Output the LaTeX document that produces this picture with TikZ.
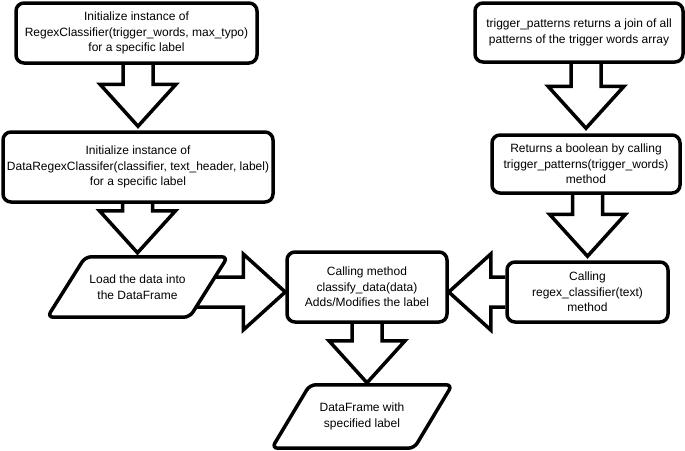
\documentclass[tikz,border=0pt]{standalone}
\usepackage{fontspec}
\setmainfont{Liberation Sans}
\usetikzlibrary{calc}
\pgfdeclarelayer{background}
\pgfsetlayers{background,main}

\tikzset{
  box/.style={draw, line width=3.5pt, rounded corners=8pt, fill=white,
    align=center, inner sep=0pt, font=\fontsize{12}{15.5}\selectfont},
  io/.style={align=center, inner sep=0pt, minimum width=142pt,
    font=\fontsize{12}{15.5}\selectfont},
  ioline/.style={draw, fill=white, line width=3.5pt, rounded corners=6pt},
  hollow/.style={draw, fill=white, line width=3.5pt}
}

% outline of a data node
\newcommand{\ioshape}[2][19pt]{%
  \draw[ioline] ($(#2.south west)+(-#1,0)$) -- ($(#2.north west)+(#1,0)$)
    -- ($(#2.north east)+(#1,0)$) -- ($(#2.south east)+(-#1,0)$) -- cycle;}

% big open arrow from #1 to the tip #2
\newcommand{\hollowarrow}[2]{%
  \path #1 coordinate (ha-s) #2 coordinate (ha-t)
    ($(ha-t)!42pt!(ha-s)$) coordinate (ha-b);
  \draw[hollow] ($(ha-s)!15pt!90:(ha-t)$) -- ($(ha-b)!15pt!90:(ha-t)$)
    -- ($(ha-b)!38pt!90:(ha-t)$) -- (ha-t) -- ($(ha-b)!38pt!-90:(ha-t)$)
    -- ($(ha-b)!15pt!-90:(ha-t)$) -- ($(ha-s)!15pt!-90:(ha-t)$);}

\begin{document}
\begin{tikzpicture}[x=1pt, y=-1pt]
  \useasboundingbox (0,0) rectangle (685,450);

  \node[box, minimum width=241pt, minimum height=60pt] (init) at (136.5,33)
    {Initialize instance of\\RegexClassifier(trigger\_words, max\_typo)\\for a specific label};
  \node[box, minimum width=270pt, minimum height=70pt] (wrap) at (138,167)
    {Initialize instance of\\DataRegexClassifer(classifier, text\_header, label)\\for a specific label};
  \node[io, minimum height=60pt] (load) at (137.5,287)
    {Load the data into\\the DataFrame};
  \node[box, minimum width=160pt, minimum height=70pt] (call) at (367,287)
    {Calling method\\classify\_data(data)\\Adds/Modifies the label};
  \node[io, minimum height=63pt] (result) at (362,416.5)
    {DataFrame with\\specified label};

  \node[box, minimum width=208pt, minimum height=59pt] (join) at (579,32.5)
    {trigger\_patterns returns a join of all\\patterns of the trigger words array};
  \node[box, minimum width=188pt, minimum height=58pt] (bool) at (586,164)
    {Returns a boolean by calling\\trigger\_patterns(trigger\_words)\\method};
  \node[box, minimum width=161pt, minimum height=60pt] (regex) at (587.5,292)
    {Calling\\regex\_classifier(text)\\method};

  \begin{pgfonlayer}{background}
    \hollowarrow{(init.south -| wrap.north)}{([yshift=4pt]wrap.north)}
    \hollowarrow{(wrap.south -| load.north)}{([yshift=4pt]load.north)}
    \hollowarrow{(join.south -| bool.north)}{([yshift=5pt]bool.north)}
    \hollowarrow{(bool.south -| regex.north)}{([yshift=4pt]regex.north)}
    \hollowarrow{(load.center |- regex.west)}{(call.west |- regex.west)}
    \hollowarrow{(regex.west)}{(call.east |- regex.west)}
    \hollowarrow{(call.south)}{([yshift=2pt]result.north -| call.south)}
    \ioshape{load}
    \ioshape{result}
  \end{pgfonlayer}
\end{tikzpicture}
\end{document}
